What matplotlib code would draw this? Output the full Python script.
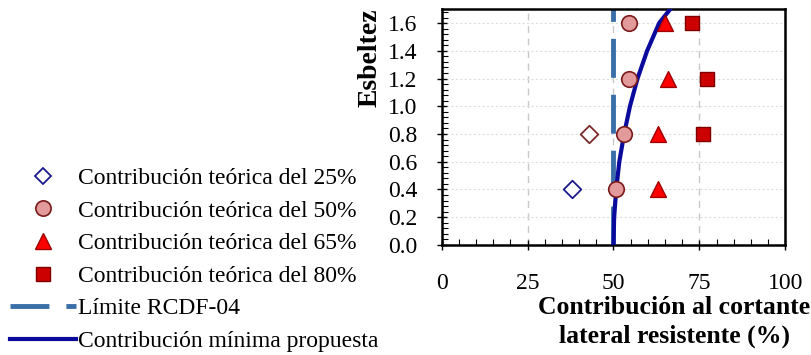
import matplotlib
matplotlib.use("Agg")
import matplotlib.pyplot as plt
from matplotlib.lines import Line2D
from matplotlib.ticker import MultipleLocator

plt.rcParams['font.family'] = ['Liberation Serif', 'DejaVu Serif']

# data
y25 = [0.4, 0.8]
x25 = [38.0, 43.0]
y50 = [0.4, 0.8, 1.2, 1.6]
x50 = [50.8, 53.1, 54.4, 54.4]
y65 = [0.4, 0.8, 1.2, 1.6]
x65 = [63.1, 63.1, 66.0, 65.1]
y80 = [0.8, 1.2, 1.6]
x80 = [76.0, 77.2, 73.0]
limite = 50
curve_y = [0.0, 0.2, 0.4, 0.6, 0.8, 1.0, 1.2, 1.4, 1.6, 1.7]
curve_x = [50.0, 50.2, 50.8, 51.7, 53.1, 54.8, 57.0, 59.8, 63.3, 66.5]

c_dash = '#3a6ea8'
c_curve = '#0a0a9c'

fig = plt.figure(figsize=(8.12, 3.55), dpi=100)
ax = fig.add_axes([0.544, 0.310, 0.423, 0.664])

ax.axvline(limite, color=c_dash, lw=3.5, dashes=(8, 3.5), zorder=2)
ax.plot(curve_x, curve_y, color=c_curve, lw=3, zorder=3)
ax.scatter(x25[:1], y25[:1], marker='D', s=80, facecolor='white', edgecolor='#1a1a8c', lw=1.3, zorder=4)
ax.scatter(x25[1:], y25[1:], marker='D', s=80, facecolor='white', edgecolor='#7a2a2a', lw=1.3, zorder=4)
ax.scatter(x50, y50, marker='o', s=125, facecolor='#e39a9a', edgecolor='#7a1a1a', lw=1.2, zorder=5)
ax.scatter(x65, y65, marker='^', s=130, facecolor='#ff0000', edgecolor='#a00000', lw=1.0, zorder=5)
ax.scatter(x80, y80, marker='s', s=110, facecolor='#cc0000', edgecolor='#800000', lw=1.0, zorder=5)

ax.set_xlim(0, 100)
ax.set_ylim(0, 1.7)
ax.set_xticks([0, 25, 50, 75, 100])
ax.set_yticks([0, 0.2, 0.4, 0.6, 0.8, 1.0, 1.2, 1.4, 1.6])
ax.set_yticklabels(['0.0', '0.2', '0.4', '0.6', '0.8', '1.0', '1.2', '1.4', '1.6'])
ax.xaxis.set_minor_locator(MultipleLocator(5))
ax.yaxis.set_minor_locator(MultipleLocator(0.04))
ax.tick_params(which='major', direction='inout', length=7, width=1, labelsize=17)
ax.tick_params(axis='y', which='major', pad=14)
ax.tick_params(axis='x', which='major', pad=17)
ax.tick_params(which='minor', direction='in', length=4, width=0.8)
ax.xaxis.grid(True, color='#c8c8c8', ls=(0, (5, 4)), lw=1)
ax.yaxis.grid(True, color='#dddddd', ls=(0, (2, 2)), lw=0.8)
ax.set_axisbelow(True)
for s in ax.spines.values():
    s.set_linewidth(1.8)

fig.text(0.456, 0.977, 'Esbeltez', rotation=90, ha='center', va='top',
         fontsize=20, fontweight='bold')
fig.text(0.998, 0.093, 'Contribución al cortante\nlateral resistente (%)', ha='right', va='center',
         multialignment='center', fontsize=18.5, fontweight='bold', linespacing=1.32)

handles = [
    Line2D([], [], ls='none', marker='D', ms=8.5, mfc='white', mec='#1a1a8c', mew=1.3),
    Line2D([], [], ls='none', marker='o', ms=11, mfc='#e39a9a', mec='#7a1a1a', mew=1.2),
    Line2D([], [], ls='none', marker='^', ms=11, mfc='#ff0000', mec='#a00000'),
    Line2D([], [], ls='none', marker='s', ms=10, mfc='#cc0000', mec='#800000'),
    Line2D([], [], color=c_dash, lw=3.5, dashes=(8, 3.5)),
    Line2D([], [], color=c_curve, lw=3),
]
labels = ['Contribución teórica del 25%', 'Contribución teórica del 50%',
          'Contribución teórica del 65%', 'Contribución teórica del 80%',
          'Límite RCDF-04', 'Contribución mínima propuesta']
fig.legend(handles, labels, loc='lower left', bbox_to_anchor=(0.006, -0.005), frameon=False,
           fontsize=17, handlelength=2.8, handletextpad=0.1, labelspacing=0.47,
           borderaxespad=0, borderpad=0.2)

fig.savefig('out.png', dpi=100)
